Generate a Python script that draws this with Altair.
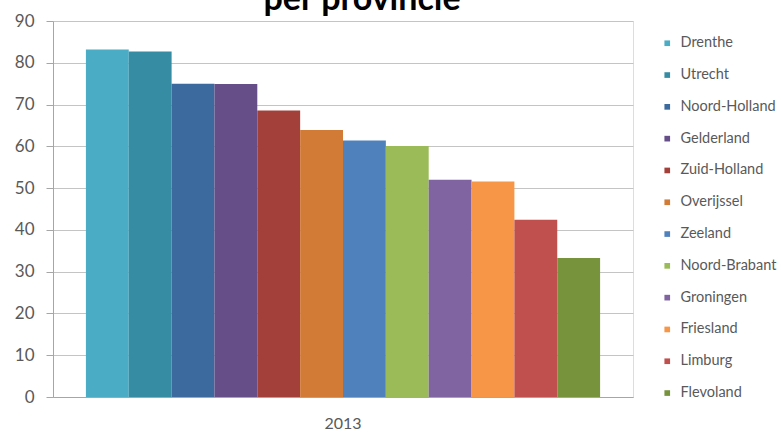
import altair as alt
import pandas as pd

# Provinces in plotted order, with their 2013 values
provinces = [
    "Drenthe", "Utrecht", "Noord-Holland", "Gelderland", "Zuid-Holland",
    "Overijssel", "Zeeland", "Noord-Brabant", "Groningen", "Friesland",
    "Limburg", "Flevoland",
]
values = [83.2, 82.7, 75.0, 74.9, 68.6, 63.9, 61.4, 60.1, 52.0, 51.6, 42.4, 33.3]
colors = [
    "#4BACC6", "#368DA3", "#3D6A9E", "#664F89", "#A3403A", "#D27B36",
    "#4F81BD", "#9BBB59", "#8064A2", "#F79646", "#C0504D", "#77933C",
]
year = "2013"
y_ticks = list(range(0, 91, 10))
title_text = "per provincie"

FONT = "Lato"
GREY_TEXT = "#595959"
AXIS_GREY = "#A6A6A6"

df = pd.DataFrame({"jaar": [year] * len(provinces), "provincie": provinces, "waarde": values})

bars = alt.Chart(df).mark_bar(strokeWidth=0).encode(
    x=alt.X(
        "jaar:N",
        title=None,
        scale=alt.Scale(paddingInner=0, paddingOuter=0.064),
        axis=alt.Axis(
            labelAngle=0, ticks=False, tickSize=0, domainColor=AXIS_GREY,
            labelFont=FONT, labelFontSize=16, labelColor=GREY_TEXT, labelPadding=18,
        ),
    ),
    xOffset=alt.XOffset(
        "provincie:N", sort=provinces,
        scale=alt.Scale(paddingInner=0, paddingOuter=0),
    ),
    y=alt.Y(
        "waarde:Q",
        title=None,
        scale=alt.Scale(domain=[0, 90], nice=False),
        axis=alt.Axis(
            values=y_ticks, domainColor=AXIS_GREY, tickColor=AXIS_GREY, tickSize=7,
            gridColor="#C4C4C4", labelFont=FONT, labelFontSize=17,
            labelColor=GREY_TEXT, labelPadding=12,
        ),
    ),
    color=alt.Color(
        "provincie:N",
        sort=provinces,
        scale=alt.Scale(domain=provinces, range=colors),
        legend=alt.Legend(
            title=None, orient="none", legendX=607, legendY=15,
            symbolType="square", symbolSize=32, symbolStrokeWidth=0,
            labelFont=FONT, labelFontSize=14.5, labelColor=GREY_TEXT,
            rowPadding=16.8, labelOffset=6,
        ),
    ),
)

title = alt.Chart(pd.DataFrame({"t": [title_text]})).mark_text(
    font=FONT, fontSize=34, fontWeight="bold", color="#000000",
    align="center", baseline="alphabetic",
).encode(text="t:N", x=alt.value(309), y=alt.value(-11.5))

chart = alt.layer(bars, title).properties(
    width=580,
    height=376,
    autosize=alt.AutoSizeParams(type="none"),
    padding={"left": 53, "top": 21, "right": 148, "bottom": 35},
).configure_view(stroke=None).configure(background="white")

chart.save("out.html", embed_options={"renderer": "svg", "actions": False})
